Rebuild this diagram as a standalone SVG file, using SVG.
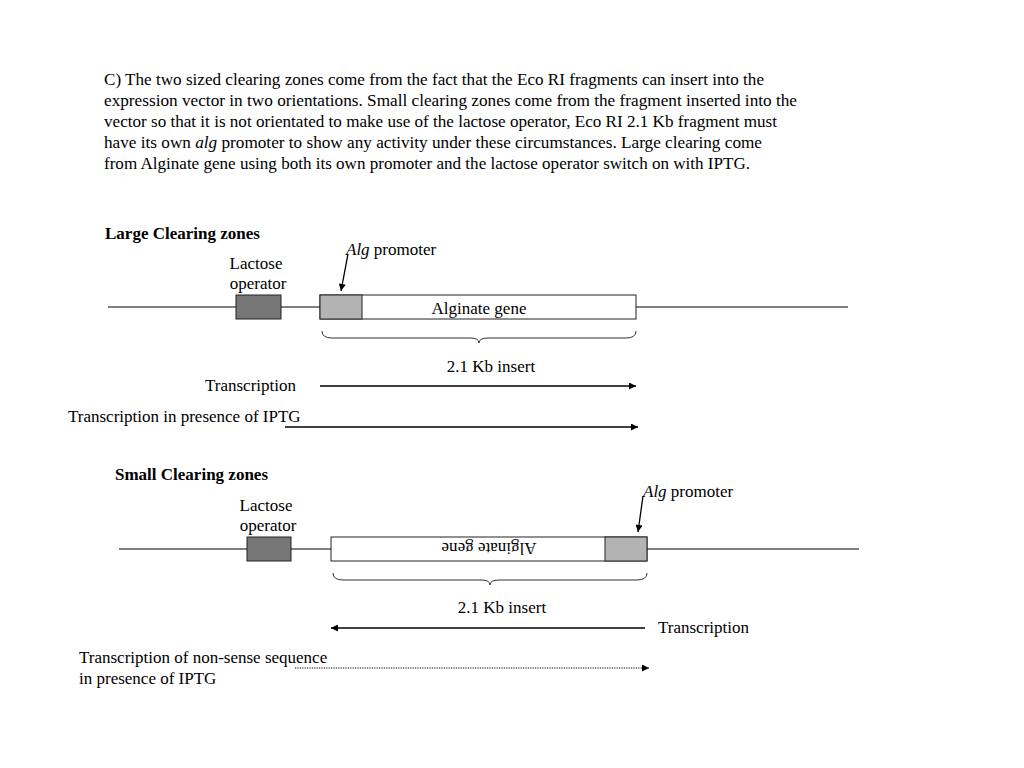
<svg xmlns="http://www.w3.org/2000/svg" width="1024" height="768" viewBox="0 0 1024 768">
<style>
text{font-family:"Liberation Serif","Times New Roman",serif;font-size:17px;fill:#000}
.b{font-weight:bold}
.axis{stroke:#555;stroke-width:1.3;fill:none}
.box{stroke:#222;stroke-width:1}
.lac{fill:#777}
.pro{fill:#b3b3b3}
.gene{fill:#fff}
.brace{stroke:#333;stroke-width:1;fill:none}
.arr{stroke:#000;stroke-width:1.3;fill:none}
.dot{stroke:#000;stroke-width:1;stroke-dasharray:1.2 1.2;fill:none}
</style>
<defs>
<marker id="ah" viewBox="0 0 10 10" refX="10" refY="5" markerWidth="8" markerHeight="7" orient="auto" markerUnits="userSpaceOnUse">
<path d="M0,0 L10,5 L0,10 z" fill="#000"/>
</marker>
</defs>
<rect width="1024" height="768" fill="#fff"/>
<g id="intro" xml:space="preserve">
<text x="104" y="85" textLength="660" lengthAdjust="spacingAndGlyphs">C) The two sized clearing zones come from the fact that the Eco RI fragments can insert into the</text>
<text x="104" y="106" textLength="693" lengthAdjust="spacingAndGlyphs">expression vector in two orientations.  Small clearing zones come from the fragment inserted into the</text>
<text x="104" y="127" textLength="673" lengthAdjust="spacingAndGlyphs">vector so that it is not orientated to make use of the lactose operator, Eco RI 2.1 Kb fragment must</text>
<text x="104" y="148" textLength="658" lengthAdjust="spacingAndGlyphs">have its own <tspan font-style="italic">alg</tspan> promoter to show any activity under these circumstances.  Large clearing come</text>
<text x="104" y="169" textLength="646" lengthAdjust="spacingAndGlyphs">from Alginate gene using both its own promoter and the lactose operator switch on with IPTG.</text>
</g>
<g id="large">
<text class="b" x="105" y="239">Large Clearing zones</text>
<line class="axis" x1="108" y1="307" x2="848" y2="307"/>
<g id="large-lac"><rect class="box lac" x="236" y="295" width="45" height="24"/>
<text x="256" y="269" text-anchor="middle">Lactose</text><text x="258" y="289" text-anchor="middle">operator</text></g>
<g id="large-gene"><rect class="box gene" x="320" y="295" width="316" height="24"/>
<rect class="box pro" x="320" y="295" width="42" height="24"/>
<text x="479" y="314" text-anchor="middle">Alginate gene</text></g>
<g id="large-prom"><text x="346" y="255"><tspan font-style="italic">Alg</tspan> promoter</text></g>
<path class="brace" d="M322,331 Q322,338 332,338 L470,338 Q479,338 479,343 Q479,338 488,338 L626,338 Q636,338 636,331"/>
<text x="491" y="372" text-anchor="middle">2.1 Kb insert</text>
<text x="205" y="391">Transcription</text>
<text x="68" y="422">Transcription in presence of IPTG</text>
</g>
<g id="small">
<text class="b" x="115" y="480">Small Clearing zones</text>
<line class="axis" x1="119" y1="549" x2="859" y2="549"/>
<g id="small-lac"><rect class="box lac" x="247" y="537" width="44" height="24"/>
<text x="266" y="511" text-anchor="middle">Lactose</text><text x="268" y="531" text-anchor="middle">operator</text></g>
<g id="small-gene"><rect class="box gene" x="331" y="537" width="316" height="24"/>
<rect class="box pro" x="605" y="537" width="42" height="24"/>
<text transform="translate(489,549) rotate(180)" x="0" y="6" text-anchor="middle">Alginate gene</text></g>
<g id="small-prom"><text x="643" y="497"><tspan font-style="italic">Alg</tspan> promoter</text></g>
<path class="brace" d="M333,573 Q333,580 343,580 L481,580 Q490,580 490,585 Q490,580 499,580 L637,580 Q647,580 647,573"/>
<text x="502" y="613" text-anchor="middle">2.1 Kb insert</text>
<text x="658" y="633">Transcription</text>
<text x="79" y="663">Transcription of non-sense sequence</text>
<text x="79" y="684">in presence of IPTG</text>
</g>
<g id="connectors">
<line class="arr" x1="348" y1="254" x2="341" y2="291" marker-end="url(#ah)"/>
<line class="arr" x1="320" y1="386" x2="636" y2="386" marker-end="url(#ah)"/>
<line class="arr" x1="285" y1="427" x2="638" y2="427" marker-end="url(#ah)"/>
<line class="arr" x1="643" y1="496" x2="638" y2="532" marker-end="url(#ah)"/>
<line class="arr" x1="645" y1="628" x2="331" y2="628" marker-end="url(#ah)"/>
<line class="dot" x1="295" y1="668" x2="649" y2="668" marker-end="url(#ah)"/>
</g>
</svg>
